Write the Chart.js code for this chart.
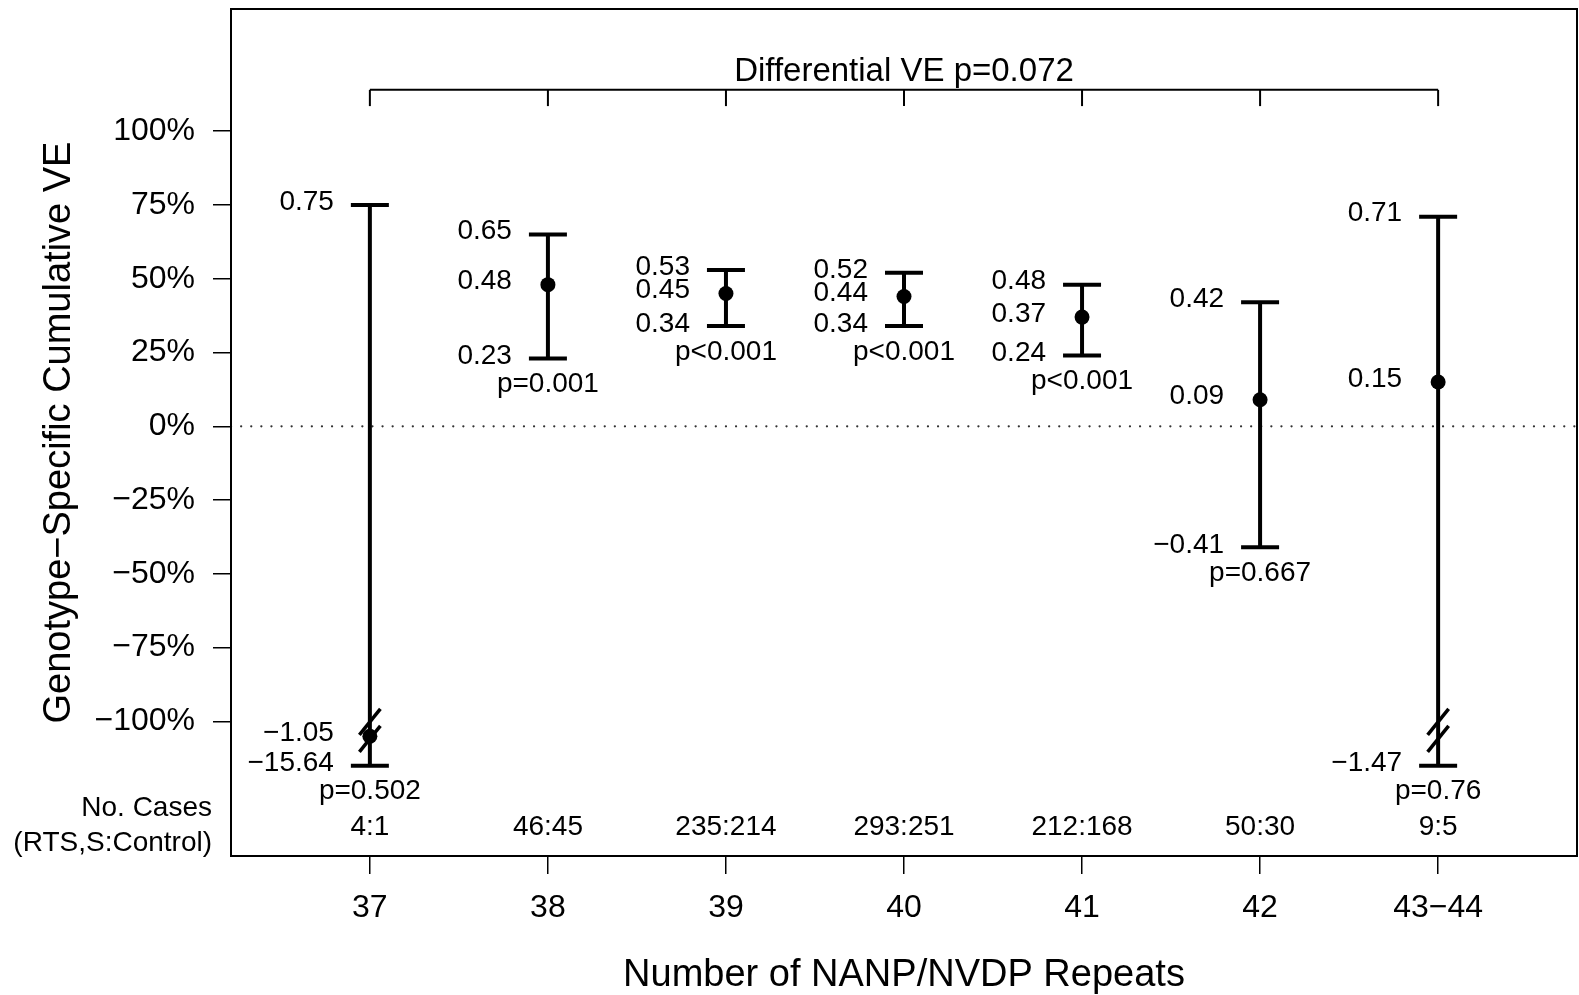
<!DOCTYPE html>
<html>
<head>
<meta charset="utf-8">
<script src="https://cdn.jsdelivr.net/npm/chart.js@4"></script>
<style>
  body { margin: 0; background: #fff; overflow: hidden; }
  canvas { display: block; }
</style>
</head>
<body>
<canvas id="chart" width="1579" height="995"></canvas>
<script>
const categories = ["37", "38", "39", "40", "41", "42", "43−44"];
const estimates = [-1.05, 0.48, 0.45, 0.44, 0.37, 0.09, 0.15];
const lowerCI = [-15.64, 0.23, 0.34, 0.34, 0.24, -0.41, -1.47];
const upperCI = [0.75, 0.65, 0.53, 0.52, 0.48, 0.42, 0.71];
const pValues = ["p=0.502", "p=0.001", "p<0.001", "p<0.001", "p<0.001", "p=0.667", "p=0.76"];
const caseCounts = ["4:1", "46:45", "235:214", "293:251", "212:168", "50:30", "9:5"];
const yTicks = [-100, -75, -50, -25, 0, 25, 50, 75, 100];
const floorVE = -1.15; // lower limits below this get cut with a break mark
const breakAt = -1.03;
const differentialLabel = "Differential VE p=0.072";

const ink = "#000";
const family = '"Liberation Sans", Arial, Helvetica, sans-serif';
const font = size => `${size}px ${family}`;
const fmt = v => v.toFixed(2).replace("-", "\u2212");

function line(ctx, x1, y1, x2, y2) {
  ctx.beginPath();
  ctx.moveTo(x1, y1);
  ctx.lineTo(x2, y2);
  ctx.stroke();
}

const errorBars = {
  id: "errorBars",
  beforeDatasetsDraw(chart) {
    const { ctx, chartArea: a, scales: { x, y } } = chart;
    ctx.save();

    // dotted zero line
    const y0 = y.getPixelForValue(0);
    ctx.strokeStyle = "#333";
    ctx.lineWidth = 2.2;
    ctx.lineCap = "round";
    ctx.setLineDash([0.1, 10]);
    line(ctx, a.left, y0, a.right, y0);
    ctx.setLineDash([]);

    // whiskers and caps
    ctx.strokeStyle = ink;
    ctx.lineWidth = 4;
    ctx.lineCap = "butt";
    categories.forEach((c, i) => {
      const px = x.getPixelForValue(i + 1);
      const top = y.getPixelForValue(upperCI[i] * 100);
      const bot = y.getPixelForValue(Math.max(lowerCI[i], floorVE) * 100);
      line(ctx, px, top, px, bot);
      line(ctx, px - 19, top, px + 19, top);
      line(ctx, px - 19, bot, px + 19, bot);
    });
    ctx.restore();
  },
  afterDatasetsDraw(chart) {
    const { ctx, chartArea: a, scales: { x, y } } = chart;
    ctx.save();
    ctx.strokeStyle = ink;
    ctx.fillStyle = ink;

    // axis break marks
    ctx.lineWidth = 3.5;
    categories.forEach((c, i) => {
      if (lowerCI[i] >= floorVE) return;
      const px = x.getPixelForValue(i + 1);
      const cy = y.getPixelForValue(breakAt * 100);
      [-8.5, 8.5].forEach(d => line(ctx, px - 10.5, cy + d + 13, px + 10.5, cy + d - 13));
    });

    // value labels
    ctx.font = font(28);
    ctx.textBaseline = "middle";
    categories.forEach((c, i) => {
      const px = x.getPixelForValue(i + 1);
      const top = y.getPixelForValue(upperCI[i] * 100);
      const mid = y.getPixelForValue(estimates[i] * 100);
      const bot = y.getPixelForValue(Math.max(lowerCI[i], floorVE) * 100);
      ctx.textAlign = "right";
      ctx.fillText(fmt(upperCI[i]), px - 36, top - 3);
      ctx.fillText(fmt(estimates[i]), px - 36, mid - 3);
      ctx.fillText(fmt(lowerCI[i]), px - 36, bot - 2);
      ctx.textAlign = "center";
      ctx.fillText(pValues[i], px, bot + 26);
      ctx.fillText(caseCounts[i], px, y.getPixelForValue(-136));
    });

    // case count row header
    ctx.textAlign = "right";
    ctx.fillText("No. Cases", a.left - 19, y.getPixelForValue(-129.5));
    ctx.fillText("(RTS,S:Control)", a.left - 19, y.getPixelForValue(-141.4));

    // bracket for the differential VE test
    const bTop = y.getPixelForValue(114);
    const bEnd = y.getPixelForValue(108.5);
    const xs = categories.map((c, i) => x.getPixelForValue(i + 1));
    ctx.lineWidth = 2;
    line(ctx, xs[0], bTop, xs[xs.length - 1], bTop);
    xs.forEach(px => line(ctx, px, bTop, px, bEnd));
    ctx.font = font(33);
    ctx.textAlign = "center";
    ctx.fillText(differentialLabel, (xs[0] + xs[xs.length - 1]) / 2, y.getPixelForValue(120.2));

    // box around the plot
    ctx.lineWidth = 2;
    ctx.strokeRect(a.left, a.top, a.right - a.left, a.bottom - a.top);
    ctx.restore();
  }
};

new Chart(document.getElementById("chart"), {
  type: "scatter",
  data: {
    datasets: [{
      data: estimates.map((v, i) => ({ x: i + 1, y: v * 100 })),
      backgroundColor: ink,
      borderWidth: 0,
      pointRadius: 7.5,
      pointHoverRadius: 7.5
    }]
  },
  options: {
    responsive: false,
    animation: false,
    devicePixelRatio: 1,
    layout: { autoPadding: false, padding: { top: 9, right: 2, left: 0, bottom: 0 } },
    plugins: { legend: { display: false }, tooltip: { enabled: false } },
    scales: {
      x: {
        type: "linear",
        min: 0.22,
        max: 7.78,
        afterBuildTicks: s => { s.ticks = categories.map((c, i) => ({ value: i + 1 })); },
        afterFit: s => { s.height = 139; s.paddingLeft = 0; s.paddingRight = 0; },
        ticks: {
          callback: (v, i) => categories[i],
          autoSkip: false,
          maxRotation: 0,
          color: ink,
          padding: 15,
          font: { family, size: 32 }
        },
        grid: { drawOnChartArea: false, drawTicks: true, tickLength: 18, color: ink, lineWidth: 1.5 },
        border: { display: false },
        title: {
          display: true,
          text: "Number of NANP/NVDP Repeats",
          color: ink,
          font: { family, size: 38, lineHeight: 1 },
          padding: { top: 0, bottom: 0 }
        }
      },
      y: {
        min: -145.6,
        max: 141.4,
        afterBuildTicks: s => { s.ticks = yTicks.map(v => ({ value: v })); },
        afterFit: s => { s.width = 231; s.paddingTop = 0; s.paddingBottom = 0; },
        ticks: {
          callback: v => (v < 0 ? "\u2212" : "") + Math.abs(v) + "%",
          color: ink,
          padding: 18,
          font: { family, size: 32 }
        },
        grid: { drawOnChartArea: false, drawTicks: true, tickLength: 18, color: ink, lineWidth: 1.5 },
        border: { display: false },
        title: {
          display: true,
          text: "Genotype\u2212Specific Cumulative VE",
          color: ink,
          font: { family, size: 38 },
          padding: { top: 37, bottom: 0 }
        }
      }
    }
  },
  plugins: [errorBars]
});
</script>
</body>
</html>
